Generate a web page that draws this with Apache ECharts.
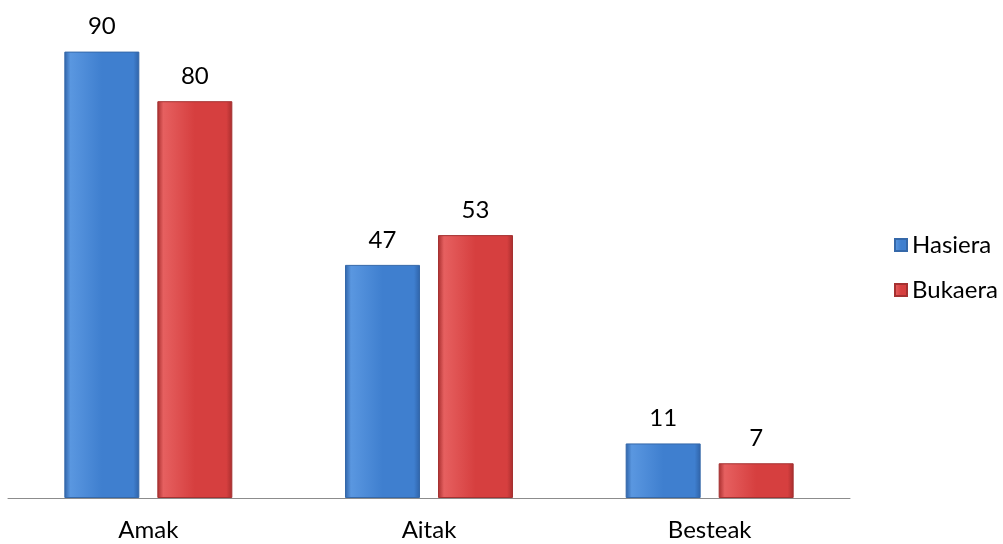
<!DOCTYPE html>
<html><head><meta charset="utf-8">
<script src="https://cdn.jsdelivr.net/npm/echarts@6/dist/echarts.min.js"></script>
<style>html,body{margin:0;padding:0;background:#fff}#c{width:1003px;height:544px}</style>
</head><body><div id="c"></div>
<script>
var categories = ['Amak', 'Aitak', 'Besteak'];
var hasiera = [90, 47, 11];
var bukaera = [80, 53, 7];
var seriesNames = ['Hasiera', 'Bukaera'];

function grad(light, mid, dark) {
  return new echarts.graphic.LinearGradient(0, 0, 1, 0, [
    {offset: 0, color: dark}, {offset: 0.08, color: light}, {offset: 0.5, color: mid},
    {offset: 0.92, color: mid}, {offset: 1, color: dark}
  ]);
}
var font = 'Lato, "Open Sans", sans-serif';
var chart = echarts.init(document.getElementById('c'));
chart.setOption({
  animation: false,
  grid: {left: 8, right: 153, top: 2, bottom: 46},
  legend: {
    orient: 'vertical', left: 889, top: 228, itemWidth: 12, itemHeight: 12, itemGap: 21,
    icon: 'rect', textStyle: {fontFamily: font, fontSize: 24, color: '#000'},
    data: seriesNames
  },
  xAxis: {
    type: 'category', data: categories,
    axisLine: {lineStyle: {color: '#8c8c8c', width: 1}},
    axisTick: {show: false},
    axisLabel: {fontFamily: font, fontSize: 24, color: '#000', margin: 20}
  },
  yAxis: {type: 'value', min: 0, max: 100, show: false, splitLine: {show: false}},
  series: [
    {name: seriesNames[0], type: 'bar', data: hasiera, barWidth: 75, barGap: '24%',
     itemStyle: {color: grad('#5a97e0', '#3f7fcf', '#2f63a8'), borderColor: '#3568a9', borderWidth: 1},
     label: {show: true, position: 'top', distance: 13, fontFamily: font, fontSize: 24, color: '#000'}},
    {name: seriesNames[1], type: 'bar', data: bukaera, barWidth: 75,
     itemStyle: {color: grad('#e66060', '#d63f3f', '#a82e2e'), borderColor: '#a53131', borderWidth: 1},
     label: {show: true, position: 'top', distance: 13, fontFamily: font, fontSize: 24, color: '#000'}}
  ]
});
</script></body></html>
